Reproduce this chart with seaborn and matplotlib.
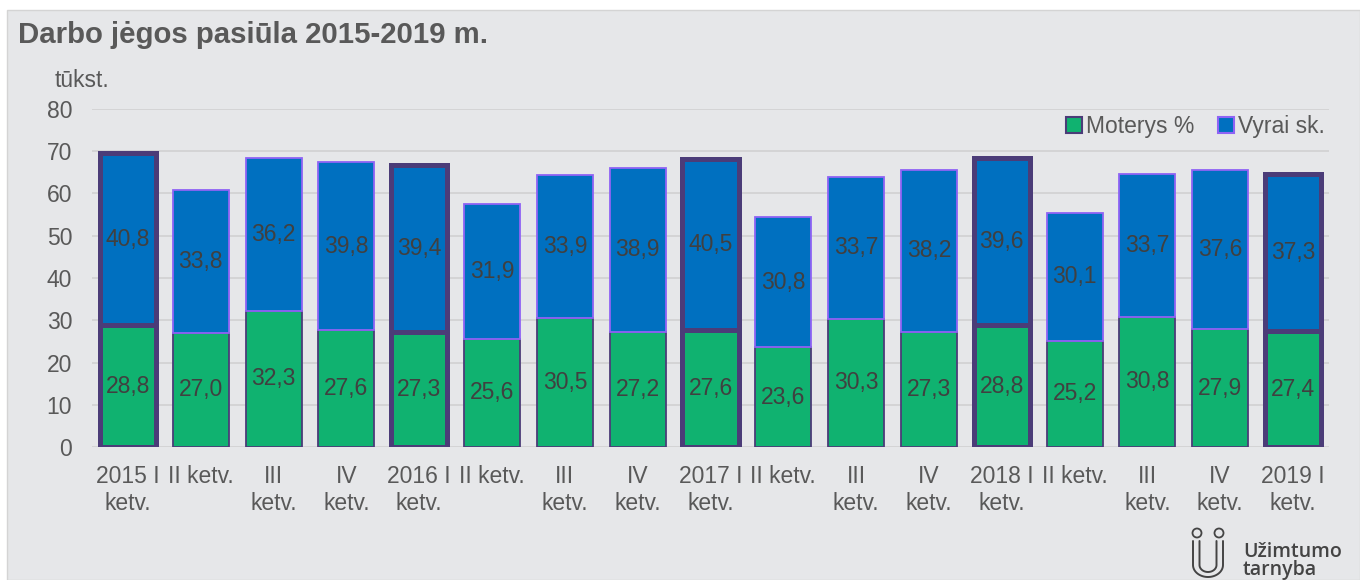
import numpy as np
import pandas as pd
import matplotlib
matplotlib.use("Agg")
import matplotlib.pyplot as plt
from matplotlib.patches import Rectangle, Circle, Patch
from matplotlib.lines import Line2D
import seaborn as sns

quarters = ["2015 I\nketv.", "II ketv.", "III\nketv.", "IV\nketv.",
            "2016 I\nketv.", "II ketv.", "III\nketv.", "IV\nketv.",
            "2017 I\nketv.", "II ketv.", "III\nketv.", "IV\nketv.",
            "2018 I\nketv.", "II ketv.", "III\nketv.", "IV\nketv.",
            "2019 I\nketv."]
women = [28.8, 27.0, 32.3, 27.6, 27.3, 25.6, 30.5, 27.2, 27.6, 23.6,
         30.3, 27.3, 28.8, 25.2, 30.8, 27.9, 27.4]
men = [40.8, 33.8, 36.2, 39.8, 39.4, 31.9, 33.9, 38.9, 40.5, 30.8,
       33.7, 38.2, 39.6, 30.1, 33.7, 37.6, 37.3]
year_start = [0, 4, 8, 12, 16]
yticks = [0, 10, 20, 30, 40, 50, 60, 70, 80]

df = pd.DataFrame({"q": range(len(quarters)), "women": women, "men": men})

GREEN = "#10B270"
BLUE = "#0070C0"
DARK = "#4B3C78"
LIGHT = "#8F63F5"
BG = "#E6E7E9"
TXT = "#404040"
TICK = "#595959"

sns.set_style("white")
plt.rcParams["font.family"] = ["Liberation Sans", "DejaVu Sans"]

fig = plt.figure(figsize=(13.6, 5.8), dpi=100)
fig.patch.set_facecolor("white")
fig.patches.append(Rectangle((7 / 1360, 0), 1 - 7 / 1360, 1 - 10 / 580,
                             transform=fig.transFigure, facecolor=BG,
                             edgecolor="#D4D4D4", lw=1, zorder=-10))

ax = fig.add_axes([91.6 / 1360, 1 - 447 / 580, (1329.4 - 91.6) / 1360, 338 / 580])
ax.set_facecolor("none")

sns.barplot(data=df, x="q", y="women", color=GREEN, width=0.77,
            errorbar=None, ax=ax, saturation=1, zorder=3)
sns.barplot(data=df, x="q", y="men", color=BLUE, width=0.77,
            errorbar=None, ax=ax, saturation=1, zorder=3,
            bottom=np.array(women))

n = len(quarters)
for i, p in enumerate(ax.patches):
    k = i % n
    if k in year_start:
        p.set_edgecolor(DARK)
        p.set_linewidth(3.6)
    elif i < n:
        p.set_edgecolor(DARK)
        p.set_linewidth(1.3)
    else:
        p.set_edgecolor(LIGHT)
        p.set_linewidth(1.3)

fmt = lambda v: f"{v:.1f}".replace(".", ",")
ax.bar_label(ax.containers[0], labels=[fmt(v) for v in women],
             label_type="center", color=TXT, fontsize=16.5)
ax.bar_label(ax.containers[1], labels=[fmt(v) for v in men],
             label_type="center", color=TXT, fontsize=16.5)

ax.set_ylim(0, 80)
ax.set_xlim(-0.5, n - 0.5)
ax.set_yticks(yticks)
ax.set_yticklabels([str(t) for t in yticks])
ax.set_xticks(range(n))
ax.set_xticklabels(quarters)
ax.tick_params(axis="both", length=0, labelsize=16.5, labelcolor=TICK)
ax.tick_params(axis="y", pad=14)
ax.tick_params(axis="x", pad=13)
ax.set_xlabel("")
ax.set_ylabel("")
ax.yaxis.grid(True, color="#D3D3D3", lw=1.3, zorder=0)
ax.set_axisbelow(True)
for s in ax.spines.values():
    s.set_visible(False)

handles = [Patch(facecolor=GREEN, edgecolor=DARK, lw=1.5, label="Moterys %"),
           Patch(facecolor=BLUE, edgecolor=LIGHT, lw=1.5, label="Vyrai sk.")]
ax.legend(handles=handles, loc="center right", bbox_to_anchor=(1.004, 0.947),
          frameon=False, fontsize=16.5, handlelength=0.7, handleheight=0.7,
          handletextpad=0.2, columnspacing=1.0, ncol=2, labelcolor=TICK,
          borderaxespad=0)

fig.text(18 / 1360, 1 - 35 / 580, "Darbo jėgos pasiūla 2015-2019 m.",
         fontsize=21.2, fontweight="bold", color="#595959", va="center", ha="left")
fig.text(55 / 1360, 1 - 80 / 580, "tūkst.", fontsize=16.5, color=TICK,
         va="center", ha="left")

# logo (pixel positions converted to inches so circles stay round)
LOGO = "#444444"
inch = fig.dpi_scale_trans
for cx in (1197, 1219):
    fig.patches.append(Circle((cx / 100, (580 - 533) / 100), 4.5 / 100,
                              transform=inch, facecolor="none",
                              edgecolor=LOGO, lw=1.3))
t = np.linspace(np.pi, 2 * np.pi, 30)
for half_w, depth in ((15, 12), (8.5, 7)):
    ux = np.concatenate([[1208 - half_w], 1208 + half_w * np.cos(t), [1208 + half_w]])
    uy = np.concatenate([[541], 565 - depth * np.sin(t), [541]])
    fig.add_artist(Line2D(ux / 1360, 1 - uy / 580, transform=fig.transFigure,
                          color=LOGO, lw=1.4))
fig.text(1243 / 1360, 1 - 561 / 580, "Užimtumo\ntarnyba", fontsize=14,
         color=LOGO, fontweight="semibold", va="center", ha="left",
         linespacing=0.9, family=["Open Sans", "DejaVu Sans"])

fig.savefig("out.png", dpi=100, facecolor=fig.get_facecolor())
